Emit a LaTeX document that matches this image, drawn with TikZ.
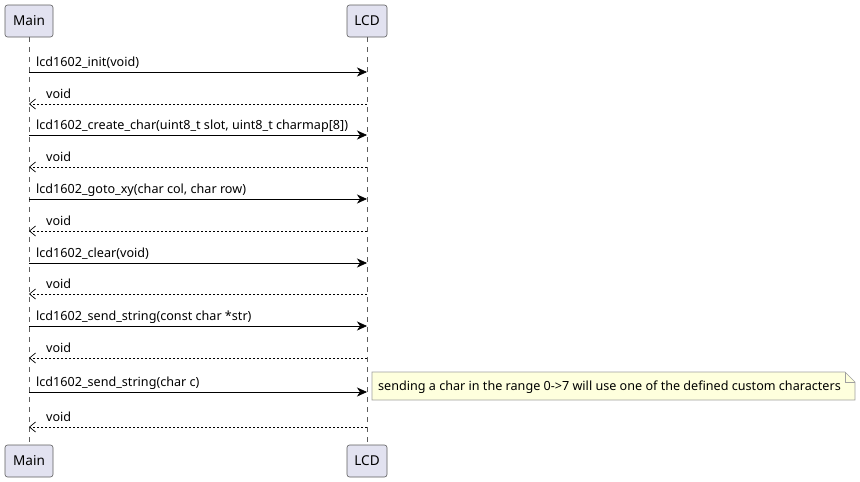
\documentclass[tikz,border=0pt]{standalone}
\usepackage{fontspec}
\setmainfont{Noto Sans}
\usetikzlibrary{arrows.meta}
\definecolor{pfill}{HTML}{E2E2F0}
\definecolor{pdraw}{HTML}{181818}
\definecolor{nfill}{HTML}{FEFFDD}
\definecolor{ndraw}{HTML}{A0A0A0}
\definecolor{lline}{HTML}{181818}
\tikzset{
  pbox/.style={draw=pdraw!70, fill=pfill, rounded corners=2.5pt, line width=0.6pt, minimum height=32pt, inner xsep=0pt, font=\fontsize{13.6}{16}\selectfont},
  lifeline/.style={draw=lline!70, line width=0.6pt, dash pattern=on 5pt off 5pt},
  callarrow/.style={draw=black, line width=0.7pt, -{Stealth[length=10pt,width=9pt,inset=3pt]}},
  retarrow/.style={draw=black, line width=0.7pt, dash pattern=on 2pt off 2pt, -{Straight Barb[length=6pt,width=10pt]}},
  msg/.style={anchor=base west, inner sep=0pt, font=\fontsize{12.6}{15}\selectfont},
}
\begin{document}
\begin{tikzpicture}[x=1pt,y=-1pt]
\useasboundingbox (0,0) rectangle (860,482);
% participants
\node[pbox, minimum width=48pt] (mainT) at (29,21) {Main};
\node[pbox, minimum width=40pt] (lcdT) at (367,21) {LCD};
\node[pbox, minimum width=48pt] (mainB) at (29,461) {Main};
\node[pbox, minimum width=40pt] (lcdB) at (367,461) {LCD};
\draw[lifeline] (mainT.south) -- (mainB.north);
\draw[lifeline] (lcdT.south) -- (lcdB.north);
% message coordinates
\foreach \n/\y in {1/72,2/104,3/135,4/167,5/199,6/231,7/263,8/294,9/326,10/358,11/392,12/427}{
  \coordinate (a\n) at (29,\y);
  \coordinate (b\n) at (367,\y);
}
% calls
\draw[callarrow] (a1) -- (b1);
\node[msg] (t1) at (36,66) {lcd1602\_init(void)};
\draw[retarrow] (b2) -- (a2);
\node[msg] (t2) at (46,98) {void};
\draw[callarrow] (a3) -- (b3);
\node[msg] (t3) at (36,129) {lcd1602\_create\_char(uint8\_t slot, uint8\_t charmap[8])};
\draw[retarrow] (b4) -- (a4);
\node[msg] (t4) at (46,161) {void};
\draw[callarrow] (a5) -- (b5);
\node[msg] (t5) at (36,193) {lcd1602\_goto\_xy(char col, char row)};
\draw[retarrow] (b6) -- (a6);
\node[msg] (t6) at (46,225) {void};
\draw[callarrow] (a7) -- (b7);
\node[msg] (t7) at (36,257) {lcd1602\_clear(void)};
\draw[retarrow] (b8) -- (a8);
\node[msg] (t8) at (46,288) {void};
\draw[callarrow] (a9) -- (b9);
\node[msg] (t9) at (36,320) {lcd1602\_send\_string(const char *str)};
\draw[retarrow] (b10) -- (a10);
\node[msg] (t10) at (46,352) {void};
\draw[callarrow] (a11) -- (b11);
\node[msg] (t11) at (36,386) {lcd1602\_send\_string(char c)};
\draw[retarrow] (b12) -- (a12);
\node[msg] (t12) at (46,421) {void};
% note
\draw[draw=ndraw, fill=nfill, line width=0.6pt] (372,372) -- (845,372) -- (855,382) -- (855,400) -- (372,400) -- cycle;
\draw[draw=ndraw, line width=0.6pt] (845,372) -- (845,382) -- (855,382);
\node[msg] (note) at (378,390) {sending a char in the range 0->7 will use one of the defined custom characters};
\end{tikzpicture}
\end{document}
